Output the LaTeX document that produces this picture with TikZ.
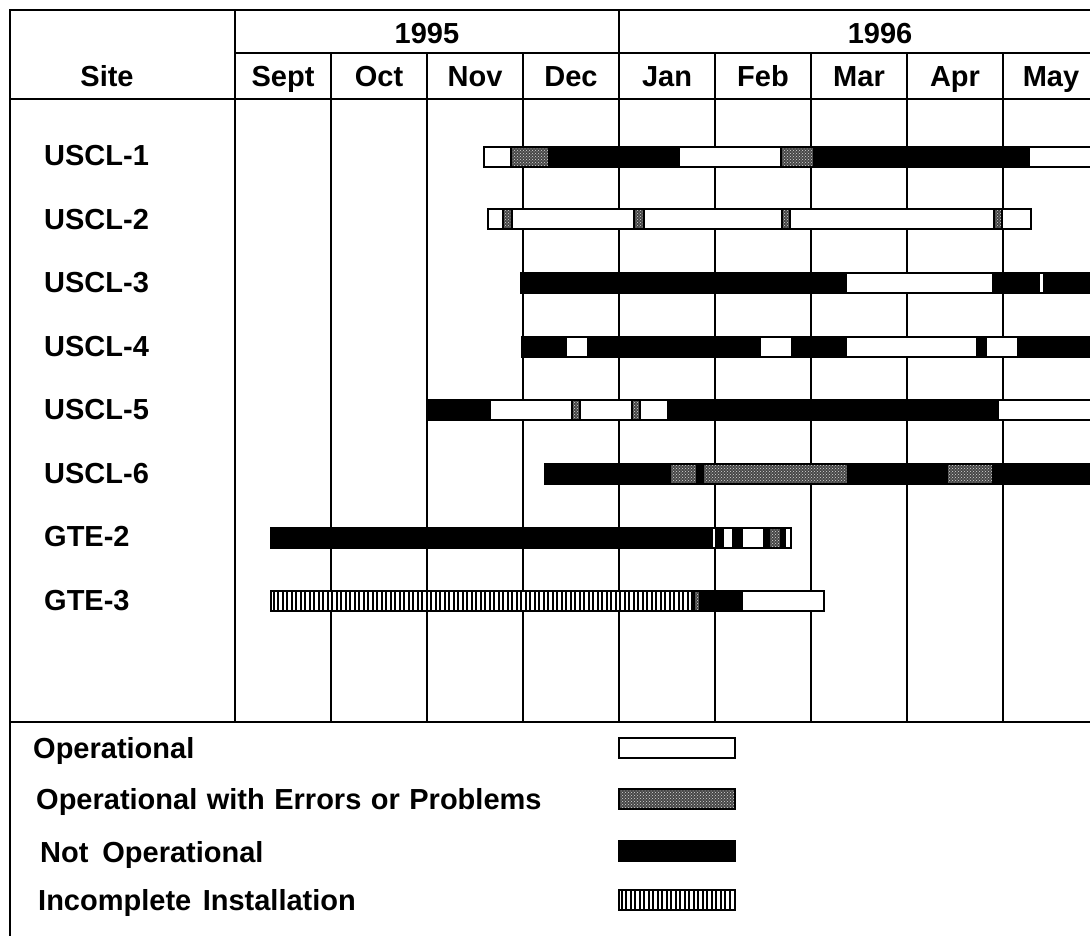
\documentclass[tikz,border=0pt]{standalone}
\usepackage{fontspec}
\setmainfont{Liberation Sans}
\usetikzlibrary{patterns}
\tikzset{
  gridline/.style={line width=2.2pt, line cap=rect},
  lab/.style={font=\bfseries\fontsize{29}{32}\selectfont, inner sep=0pt},
  seg/.style={draw=black, line width=2.2pt},
  okseg/.style={seg, fill=white},
  noseg/.style={seg, fill=black},
}
% segments: #1 = x start, #2 = x end, #3 = y centre
\newcommand\segok[3]{\draw[okseg] (#1,#3-10) rectangle (#2,#3+10);}
\newcommand\segno[3]{\draw[noseg] (#1,#3-10) rectangle (#2,#3+10);}
\newcommand\segerr[3]{%
  \fill[black!72] (#1,#3-10) rectangle (#2,#3+10);
  \fill[pattern=crosshatch dots, pattern color=white!85!black] (#1,#3-10) rectangle (#2,#3+10);
  \draw[seg] (#1,#3-10) rectangle (#2,#3+10);}
\newcommand\seginc[3]{%
  \fill[white] (#1,#3-10) rectangle (#2,#3+10);
  \pgfmathsetmacro\incA{#1+2.5}\pgfmathsetmacro\incB{#1+7}\pgfmathsetmacro\incC{#2-2}
  \foreach \xx in {\incA,\incB,...,\incC} \draw[line width=2pt] (\xx,#3-10) -- (\xx,#3+10);
  \draw[seg] (#1,#3-10) rectangle (#2,#3+10);}
\begin{document}
\begin{tikzpicture}[x=1pt,y=-1pt]
\useasboundingbox (0,0) rectangle (1090,935);
% frame and grid
\draw[gridline] (1095,10) -- (10,10) -- (10,940);
\draw[gridline] (235,53) -- (1095,53);
\draw[gridline] (10,99) -- (1095,99);
\draw[gridline] (10,722) -- (1095,722);
\draw[gridline] (235,10) -- (235,722);
\draw[gridline] (619,10) -- (619,722);
\foreach \xx in {331,427,523,715,811,907,1003}
  \draw[gridline] (\xx,53) -- (\xx,722);
% header texts
\node[lab, anchor=base] (site) at (107,86) {Site};
\node[lab, anchor=base] (y95) at (427,43) {1995};
\node[lab, anchor=base] (y96) at (880,43) {1996};
\node[lab, anchor=base] (m9) at (283,86) {Sept};
\node[lab, anchor=base] (m10) at (379,86) {Oct};
\node[lab, anchor=base] (m11) at (475,86) {Nov};
\node[lab, anchor=base] (m12) at (571,86) {Dec};
\node[lab, anchor=base] (m1) at (667,86) {Jan};
\node[lab, anchor=base] (m2) at (763,86) {Feb};
\node[lab, anchor=base] (m3) at (859,86) {Mar};
\node[lab, anchor=base] (m4) at (955,86) {Apr};
\node[lab, anchor=base] (m5) at (1051,86) {May};
% site labels
\node[lab, anchor=base west] (s1) at (44,165) {USCL-1};
\node[lab, anchor=base west] (s2) at (44,229) {USCL-2};
\node[lab, anchor=base west] (s3) at (44,292) {USCL-3};
\node[lab, anchor=base west] (s4) at (44,356) {USCL-4};
\node[lab, anchor=base west] (s5) at (44,419) {USCL-5};
\node[lab, anchor=base west] (s6) at (44,483) {USCL-6};
\node[lab, anchor=base west] (g2) at (44,546) {GTE-2};
\node[lab, anchor=base west] (g3) at (44,610) {GTE-3};
% USCL-1
\segok{484}{511}{157}\segerr{511}{549}{157}\segno{549}{679}{157}
\segok{679}{781}{157}\segerr{781}{814}{157}\segno{814}{1029}{157}\segok{1029}{1100}{157}
% USCL-2
\segok{488}{503}{219}\segerr{503}{512}{219}\segok{512}{634}{219}\segerr{634}{644}{219}
\segok{644}{782}{219}\segerr{782}{790}{219}\segok{790}{994}{219}\segerr{994}{1002}{219}
\segok{1002}{1031}{219}
% USCL-3
\segno{521}{846}{283}\segok{846}{993}{283}\segno{993}{1039}{283}\segok{1039}{1044}{283}
\segno{1044}{1100}{283}
% USCL-4
\segno{522}{566}{347}\segok{566}{588}{347}\segno{588}{760}{347}\segok{760}{792}{347}
\segno{792}{846}{347}\segok{846}{977}{347}\segno{977}{986}{347}\segok{986}{1018}{347}
\segno{1018}{1100}{347}
% USCL-5
\segno{427}{490}{410}\segok{490}{572}{410}\segerr{572}{580}{410}\segok{580}{632}{410}
\segerr{632}{640}{410}\segok{640}{668}{410}\segno{668}{998}{410}\segok{998}{1100}{410}
% USCL-6
\segno{545}{670}{474}\segerr{670}{697}{474}\segno{697}{703}{474}\segerr{703}{848}{474}
\segno{848}{947}{474}\segerr{947}{993}{474}\segno{993}{1100}{474}
% GTE-2
\segno{271}{712}{538}\segok{712}{716}{538}\segno{716}{723}{538}\segok{723}{733}{538}
\segno{733}{742}{538}\segok{742}{764}{538}\segno{764}{769}{538}\segerr{769}{781}{538}
\segno{781}{785}{538}\segok{785}{791}{538}
% GTE-3
\seginc{271}{694}{601}\segerr{694}{700}{601}\segno{700}{742}{601}\segok{742}{824}{601}
% legend
\node[lab, anchor=base west] (l1) at (33,758) {Operational};
\node[lab, anchor=base west] (l2) at (36,809.5) {Operational\hspace{0.05em} with\hspace{0.05em} Errors\hspace{0.05em} or\hspace{0.05em} Problems};
\node[lab, anchor=base west] (l3) at (40,862) {Not\hspace{0.2em} Operational};
\node[lab, anchor=base west] (l4) at (38,910.5) {Incomplete\hspace{0.12em} Installation};
\segok{619}{735}{748}
\segerr{619}{735}{799}
\segno{619}{735}{851}
\seginc{619}{735}{900}
\end{tikzpicture}
\end{document}
